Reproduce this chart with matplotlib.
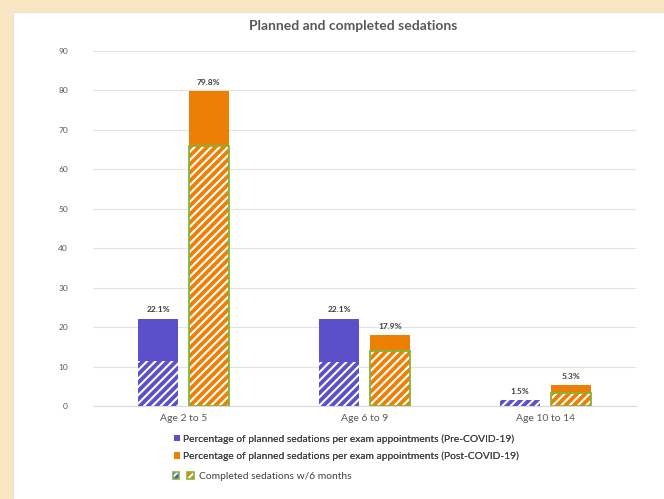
import matplotlib.pyplot as plt
import matplotlib.patches as mpatches
from matplotlib.legend_handler import HandlerTuple
import numpy as np

# datos
categories = ['Age 2 to 5', 'Age 6 to 9', 'Age 10 to 14']
pre_planned = [22.1, 22.1, 1.5]
post_planned = [79.8, 17.9, 5.3]
pre_completed = [11.5, 11.2, 1.5]
post_completed = [66.0, 13.9, 3.4]
yticks = [0, 10, 20, 30, 40, 50, 60, 70, 80, 90]

PURPLE = '#5B50C9'
ORANGE = '#EE7F05'
GREEN = '#82B437'
GRAY = '#595959'

plt.rcParams['font.family'] = ['Lato', 'DejaVu Sans']
plt.rcParams['hatch.linewidth'] = 1.5

fig = plt.figure(figsize=(6.64, 4.99), dpi=100)
fig.patch.set_facecolor('#F8E6C3')
# panel blanco
fig.patches.append(mpatches.Rectangle((13 / 664, 0), 1, 1 - 12 / 499,
                                      transform=fig.transFigure,
                                      facecolor='white', edgecolor='#E8E0D0',
                                      linewidth=0.8, zorder=-5))

ax = fig.add_axes([93 / 664, 1 - 406 / 499, 543 / 664, 355 / 499])
ax.set_facecolor('none')

x = np.arange(len(categories))
w = 0.22
off = 0.14

b1 = ax.bar(x - off, pre_planned, w, color=PURPLE, zorder=2)
b2 = ax.bar(x + off, post_planned, w, color=ORANGE, zorder=2)

# parte completada (rayada)
ax.bar(x - off, pre_completed, w, color=PURPLE, edgecolor='white',
       hatch='////', linewidth=0, zorder=3)
ax.bar(x + off, post_completed, w, color=ORANGE, edgecolor='white',
       hatch='////', linewidth=0, zorder=3)
ax.bar(x + off, post_completed, w, fill=False, edgecolor=GREEN,
       linewidth=1.3, zorder=4)

ax.bar_label(b1, labels=[f'{v:.1f}%' for v in pre_planned], padding=4,
             fontsize=6, fontweight='bold', color='#404040')
ax.bar_label(b2, labels=[f'{v:.1f}%' for v in post_planned], padding=4,
             fontsize=6, fontweight='bold', color='#404040')

ax.set_xlim(-0.5, len(categories) - 0.5)
ax.set_ylim(0, 90)
ax.set_yticks(yticks)
ax.set_xticks(x)
ax.set_xticklabels(categories)
ax.tick_params(axis='y', length=0, labelsize=6, labelcolor=GRAY, pad=18)
ax.tick_params(axis='x', length=0, labelsize=7.5, labelcolor=GRAY, pad=6)
ax.grid(axis='y', color='#E3E3E3', linewidth=0.8, zorder=0)
ax.set_axisbelow(True)
for s in ['top', 'right', 'left']:
    ax.spines[s].set_visible(False)
ax.spines['bottom'].set_color('#D9D9D9')

fig.text(353 / 664, 1 - 26 / 499, 'Planned and completed sedations',
         ha='center', va='center', fontsize=10, fontweight='bold', color=GRAY)

# leyenda
h1 = mpatches.Patch(facecolor=PURPLE)
h2 = mpatches.Patch(facecolor=ORANGE)
leg1 = fig.legend([h1, h2],
                  ['Percentage of planned sedations per exam appointments (Pre-COVID-19)',
                   'Percentage of planned sedations per exam appointments (Post-COVID-19)'],
                  loc='upper left', bbox_to_anchor=(174 / 664, 1 - 434 / 499),
                  frameon=False, fontsize=7.4, labelcolor='#404040',
                  handlelength=0.6, handleheight=0.6, handletextpad=0.3,
                  labelspacing=0.8, borderaxespad=0, borderpad=0)
fig.add_artist(leg1)

h3a = mpatches.Patch(facecolor=PURPLE, edgecolor='white', hatch='//', linewidth=0)
h3b = mpatches.Patch(facecolor=ORANGE, edgecolor='white', hatch='//', linewidth=0)
h3c = mpatches.Patch(fill=False, edgecolor=GREEN, linewidth=1.2)
h3d = mpatches.Patch(fill=False, edgecolor=GREEN, linewidth=1.2)
inner_a = (h3a, h3c)
inner_b = (h3b, h3d)
fig.legend([(inner_a, inner_b)], ['Completed sedations w/6 months'],
           handler_map={tuple: HandlerTuple(ndivide=None, pad=0.8),
                        inner_a: HandlerTuple(ndivide=1),
                        inner_b: HandlerTuple(ndivide=1)},
           loc='upper left', bbox_to_anchor=(173 / 664, 1 - 472 / 499),
           frameon=False, fontsize=7.4, labelcolor='#404040',
           handlelength=2.0, handleheight=0.7, handletextpad=0.5,
           borderaxespad=0, borderpad=0)

plt.savefig('out.png', dpi=100, facecolor=fig.get_facecolor())
